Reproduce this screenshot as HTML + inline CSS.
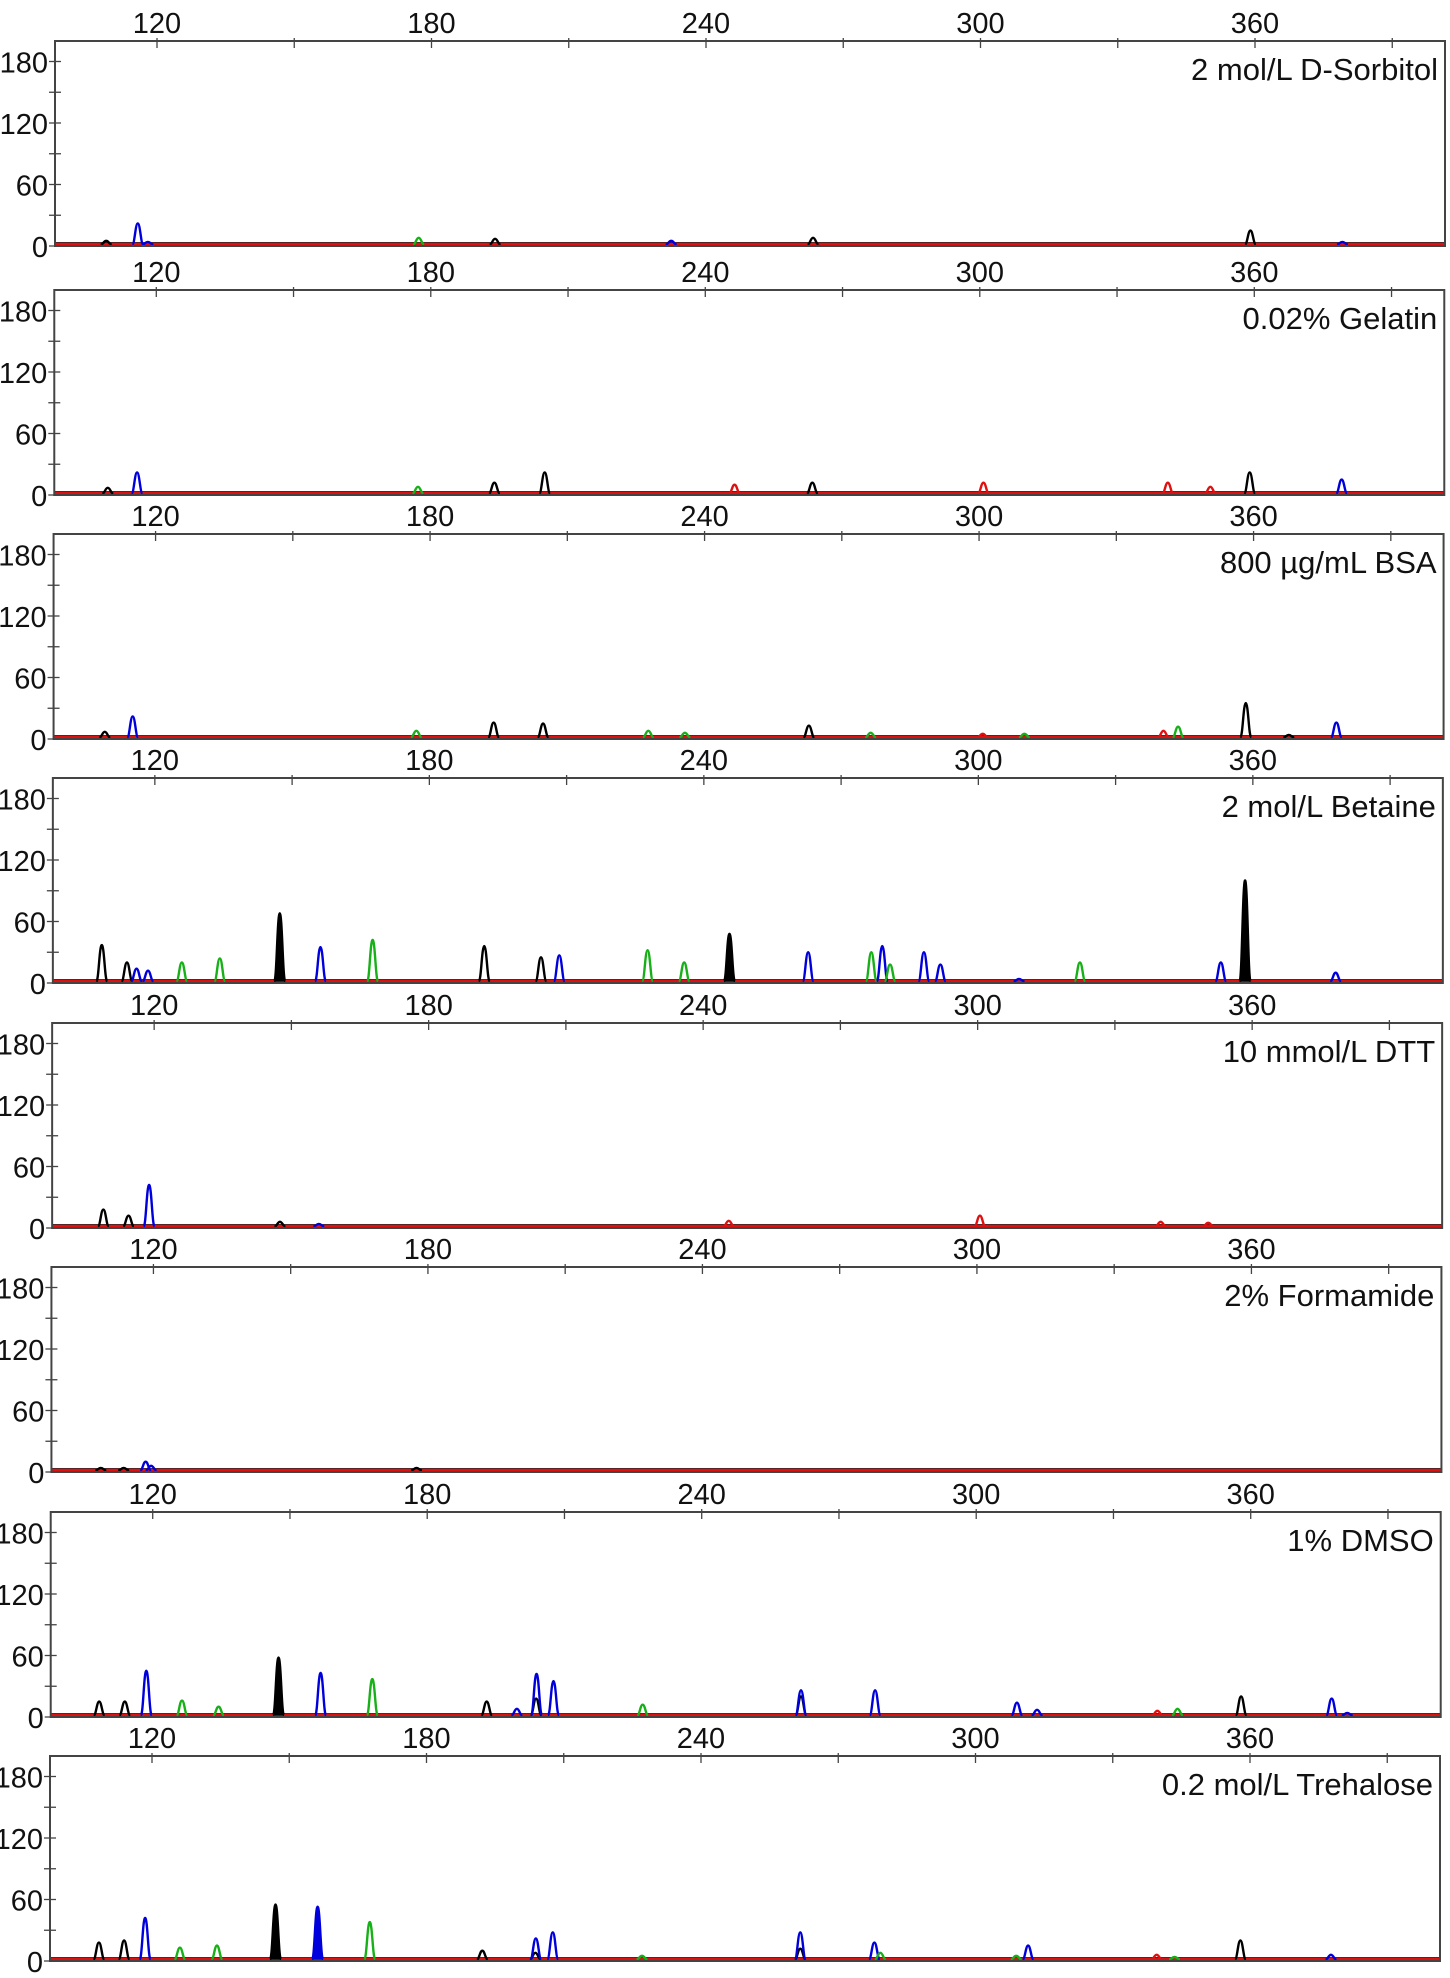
<!DOCTYPE html>
<html><head><meta charset="utf-8">
<style>
html,body{margin:0;padding:0;background:#fff;}
svg{display:block;font-family:"Liberation Sans","DejaVu Sans",sans-serif;}
</style></head>
<body>
<svg id="chart" width="1450" height="1978" viewBox="0 0 1450 1978" xmlns="http://www.w3.org/2000/svg"></svg>
<script>
const panelLabels = ["2 mol/L  D-Sorbitol","0.02% Gelatin","800 \u00b5g/mL BSA","2 mol/L Betaine","10 mmol/L DTT","2% Formamide","1% DMSO","0.2 mol/L Trehalose"];
const xTickLabels = [120,180,240,300,360];
const yTickLabels = [0,60,120,180];
const dyeColors = {k:"#000000",b:"#0000dd",g:"#18b018",r:"#e01010"};

const sorbitolPos = [108.9,115.8,118,177.2,193.9,232.4,263.4,359,379.1];
const sorbitolHeight = [5,22,4,8,7,5,8,15,4];
const sorbitolDye = ["k","b","b","g","k","b","k","k","b"];

const gelatinPos = [109.4,115.8,177.2,193.9,204.9,246.4,263.4,300.8,341.1,350.4,359,379.1];
const gelatinHeight = [7,22,8,12,22,10,12,12,12,8,22,15];
const gelatinDye = ["k","b","g","k","k","r","k","r","r","r","k","b"];

const bsaPos = [108.9,115,177,193.9,204.7,227.7,235.7,262.8,276.3,300.8,309.9,340.3,343.5,358.3,367.7,378.1];
const bsaHeight = [7,22,8,16,15,8,6,13,6,5,5,8,12,35,4,16];
const bsaDye = ["k","b","g","k","k","g","g","k","g","r","g","r","g","k","k","b"];

const betainePos = [108.4,113.9,116,118.5,125.9,134.2,147.3,156.2,167.6,192,204.4,208.4,227.7,235.7,245.6,262.8,276.6,279,280.7,288.1,291.7,308.9,322.2,353,358.3,378.1];
const betaineHeight = [37,20,14,12,20,24,68,35,42,36,25,27,32,20,48,30,30,36,18,30,18,4,20,20,100,10];
const betaineDye = ["k","k","b","b","g","g","K","b","g","k","k","b","g","g","K","b","g","b","g","b","b","b","g","b","K","b"];

const dttPos = [108.9,114.4,118.9,147.5,156,245.6,300.5,340,350.4];
const dttHeight = [18,12,42,6,4,7,12,6,5];
const dttDye = ["k","k","b","k","b","r","r","r","r"];

const formamidePos = [108.5,113.5,118.3,119.5,177.5];
const formamideHeight = [4,4,10,6,4];
const formamideDye = ["k","k","b","b","k"];

const dmsoPos = [108.3,113.9,118.6,126.4,134.4,147.5,156.7,168,193,199.6,203.8,203.9,207.6,227.1,261.7,261.7,277.9,308.9,313.3,339.6,344,357.9,377.7,381.1];
const dmsoHeight = [15,15,45,16,10,58,43,37,15,8,18,42,35,12,20,26,26,14,7,6,8,20,18,4];
const dmsoDye = ["k","k","b","g","g","K","b","g","k","b","k","b","b","g","k","b","b","b","b","r","g","k","b","b"];

const trehalosePos = [108.4,113.9,118.5,126.1,134.2,147,156.2,167.6,192.2,203.8,203.9,207.6,227.1,261.7,261.7,277.9,279.2,308.9,311.5,339.6,343.5,357.9,377.7];
const trehaloseHeight = [18,20,42,13,15,55,53,38,10,8,22,28,5,12,28,18,8,5,15,6,4,20,6];
const trehaloseDye = ["k","k","b","g","g","K","B","g","k","k","b","b","g","k","b","b","g","g","b","r","g","k","b"];

const panelPos = [sorbitolPos,gelatinPos,bsaPos,betainePos,dttPos,formamidePos,dmsoPos,trehalosePos];
const panelHeight = [sorbitolHeight,gelatinHeight,bsaHeight,betaineHeight,dttHeight,formamideHeight,dmsoHeight,trehaloseHeight];
const panelDye = [sorbitolDye,gelatinDye,bsaDye,betaineDye,dttDye,formamideDye,dmsoDye,trehaloseDye];
const panelNames = ["sorbitol","gelatin","bsa","betaine","dtt","formamide","dmso","trehalose"];

const svg = document.getElementById('chart');
const NS = "http://www.w3.org/2000/svg";
function mk(tag, attrs, parent){const e=document.createElementNS(NS,tag);for(const k in attrs)e.setAttribute(k,attrs[k]);(parent||svg).appendChild(e);return e;}

const tops = [41,290,534,778,1023,1267,1512,1756];
const plotH = 205, yMax = 200, kx = 4.575;

for (let i=0;i<8;i++){
  const top = tops[i];
  const x120 = 157 - i*5/7;
  const left = x120 - 102, right = x120 + 1288;
  const zeroY = top + plotH;
  const xs = v => x120 + (v-120)*kx;
  const ys = v => zeroY - v*(plotH/yMax);
  const g = mk('g',{});
  
  

  const bl1 = mk('line',{x1:left,x2:right,y1:ys(3),y2:ys(3),stroke:"#000",'stroke-width':1.6},g);
  
  
  const bl2 = mk('line',{x1:left,x2:right,y1:ys(1.5),y2:ys(1.5),stroke:"#e01010",'stroke-width':3.5},g);
  
  

  const P = panelPos[i], H = panelHeight[i], D = panelDye[i];
  for (let j=0;j<P.length;j++){
    const d = D[j]; const filled = (d==="K"||d==="B");
    const col = dyeColors[d.toLowerCase()];
    const cx = xs(P[j]), w = 5.5, yb = ys(1.5), yt = ys(H[j]);
    const path = `M${cx-w},${yb} C${cx-w*0.55},${yb} ${cx-w*0.45},${yt} ${cx},${yt} C${cx+w*0.45},${yt} ${cx+w*0.55},${yb} ${cx+w},${yb}`;
    const pk = mk('path',{d:path,fill:filled?col:"none",stroke:col,'stroke-width':2.4},g);
    
    
  }

  const fr = mk('rect',{x:left,y:top,width:right-left,height:plotH,fill:"none",stroke:"#444",'stroke-width':2},g);
  
  

  for (let v=120; v<=390; v+=30){
    const t = mk('line',{x1:xs(v),x2:xs(v),y1:top-3,y2:top+7,stroke:"#444",'stroke-width':1.3},g);
    
    
  }
  xTickLabels.forEach(v=>{
    const t = mk('text',{x:xs(v),y:top-8,'text-anchor':'middle','font-size':29,fill:"#111"},g);
    t.textContent = v;
    
    
  });
  for (let v=0; v<=180; v+=30){
    const t = mk('line',{x1:left-6,x2:left+6,y1:ys(v),y2:ys(v),stroke:"#444",'stroke-width':1.3},g);
    
    
  }
  yTickLabels.forEach(v=>{
    const t = mk('text',{x:left-7,y:ys(v)+11,'text-anchor':'end','font-size':29,fill:"#111"},g);
    t.textContent = v;
    
    
  });
  const lb = mk('text',{x:right-7,y:top+39,'text-anchor':'end','font-size':31,fill:"#111"},g);
  lb.textContent = panelLabels[i];
  
  
}
</script>
</body></html>
